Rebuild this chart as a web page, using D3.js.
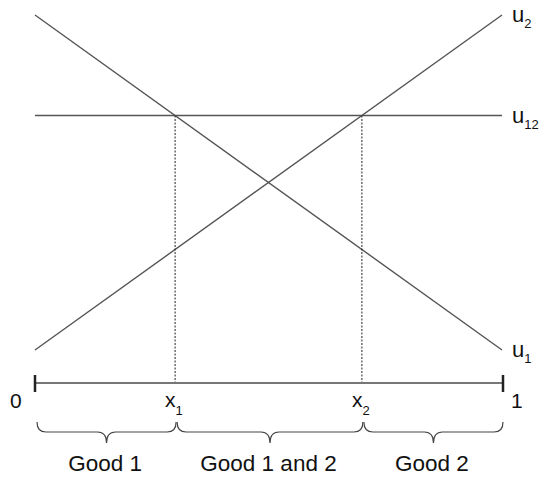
<!DOCTYPE html>
<html>
<head>
<meta charset="utf-8">
<script src="https://cdn.jsdelivr.net/npm/d3@7"></script>
<style>
  body { margin: 0; background: #fff; }
  text { font-family: "Liberation Sans", Arial, sans-serif; fill: #111; }
</style>
</head>
<body>
<svg width="539" height="478"></svg>
<script>
// data
var xPts = [0, 1];
var u1Vals = [1, 0];
var u2Vals = [0, 1];
var u12Vals = [0.7, 0.7];
var cutoffs = [0.3, 0.7];          // x1, x2
var cutoffNames = ["1", "2"];
var regionBounds = [0, 0.3, 0.7, 1];
var regionNames = ["Good 1", "Good 1 and 2", "Good 2"];
var lineNames = [["u", "1"], ["u", "2"], ["u", "12"]];

var svg = d3.select('svg');

// scales
var x = d3.scaleLinear().domain([0, 1]).range([35, 502]);
var y = d3.scaleLinear().domain([0, 1]).range([350, 15]);
var axisY = 383;

var line = d3.line()
    .x(function(d) { return x(d[0]); })
    .y(function(d) { return y(d[1]); });

var series = [u1Vals, u2Vals, u12Vals];

// utility lines
svg.append('g').selectAll('path')
    .data(series)
    .enter()
    .append('path')
    .attr('d', function(vals) { return line(xPts.map(function(p, i) { return [p, vals[i]]; })); })
    .attr('fill', 'none')
    .attr('stroke', '#555')
    .attr('stroke-width', 1.4);

// line labels (u with subscript)
svg.append('g').selectAll('text')
    .data(series)
    .enter()
    .append('text')
    .attr('x', 512)
    .attr('y', function(vals) { return y(vals[1]) + 7; })
    .style('font-size', '22px')
    .each(function(vals, i) {
        var t = d3.select(this);
        t.append('tspan').text(lineNames[i][0]);
        t.append('tspan').attr('dy', 6).style('font-size', '13px').text(lineNames[i][1]);
    });

// dashed verticals
svg.append('g').selectAll('line')
    .data(cutoffs)
    .enter()
    .append('line')
    .attr('x1', function(d) { return x(d); })
    .attr('x2', function(d) { return x(d); })
    .attr('y1', y(u12Vals[0]))
    .attr('y2', axisY)
    .attr('stroke', '#222')
    .attr('stroke-width', 1)
    .attr('stroke-dasharray', '2,1.5');

// axis line with end ticks
svg.append('line')
    .attr('x1', x(0)).attr('x2', x(1) + 1)
    .attr('y1', axisY).attr('y2', axisY)
    .attr('stroke', '#777')
    .attr('stroke-width', 2);
svg.append('g').selectAll('line')
    .data(xPts)
    .enter()
    .append('line')
    .attr('x1', function(d) { return x(d) + d; })
    .attr('x2', function(d) { return x(d) + d; })
    .attr('y1', axisY - 8)
    .attr('y2', axisY + 9)
    .attr('stroke', '#222')
    .attr('stroke-width', 2.5);

svg.append('text').attr('x', 10).attr('y', 408).style('font-size', '21px').text('0');
svg.append('text').attr('x', 511).attr('y', 408).style('font-size', '21px').text('1');

// x1, x2 labels
svg.append('g').selectAll('text')
    .data(cutoffs)
    .enter()
    .append('text')
    .attr('x', function(d) { return x(d) - 10; })
    .attr('y', 407)
    .style('font-size', '21px')
    .each(function(d, i) {
        var t = d3.select(this);
        t.append('tspan').text('x');
        t.append('tspan').attr('dy', 8).style('font-size', '13px').text(cutoffNames[i]);
    });

// braces
function brace(xa, xb, y0, y1, y2) {
    var r = 9, m = (xa + xb) / 2;
    return 'M' + xa + ',' + y0 +
        'Q' + xa + ',' + y1 + ' ' + (xa + r) + ',' + y1 +
        'L' + (m - r) + ',' + y1 +
        'Q' + m + ',' + y1 + ' ' + m + ',' + y2 +
        'Q' + m + ',' + y1 + ' ' + (m + r) + ',' + y1 +
        'L' + (xb - r) + ',' + y1 +
        'Q' + xb + ',' + y1 + ' ' + xb + ',' + y0;
}

var regions = regionNames.map(function(n, i) {
    return { name: n, a: regionBounds[i], b: regionBounds[i + 1] };
});

svg.append('g').selectAll('path')
    .data(regions)
    .enter()
    .append('path')
    .attr('d', function(d) { return brace(x(d.a) + 2, x(d.b) + 1, 422, 432, 443); })
    .attr('fill', 'none')
    .attr('stroke', '#444')
    .attr('stroke-width', 1.2);

svg.append('g').selectAll('text')
    .data(regions)
    .enter()
    .append('text')
    .attr('x', function(d) { return (x(d.a) + x(d.b)) / 2; })
    .attr('y', 471)
    .attr('text-anchor', 'middle')
    .style('font-size', '22.5px')
    .text(function(d) { return d.name; });
</script>
</body>
</html>
